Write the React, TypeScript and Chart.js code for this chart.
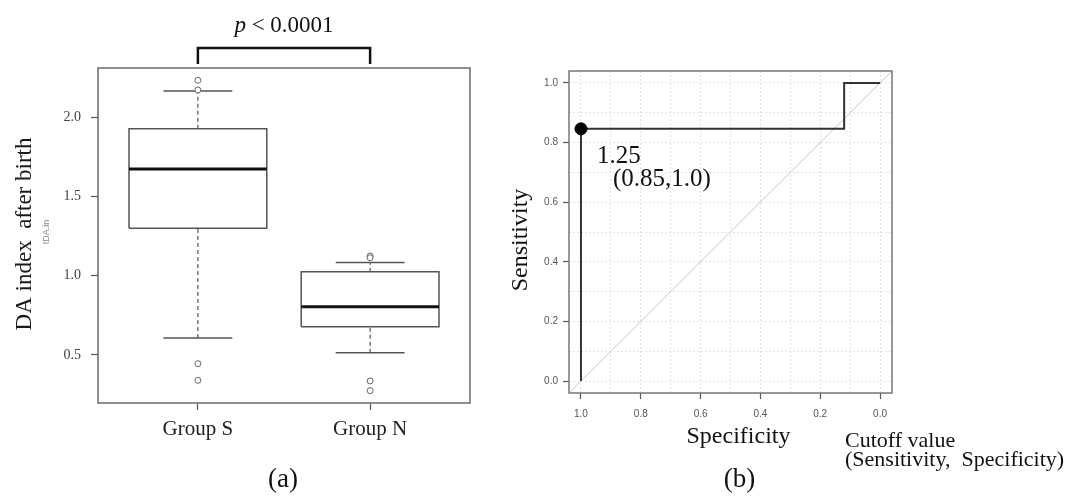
import React, { useEffect, useRef } from "react";
import { Chart, registerables } from "chart.js";
Chart.register(...registerables);

const SERIF = "'Liberation Serif', 'Times New Roman', serif";
const SANS = "'Liberation Sans', Arial, sans-serif";

// ---- Panel (a): box plot data ----
const groups = ["Group S", "Group N"];
const groupPos = [1, 2];
const q1 = [1.298, 0.678];
const medians = [1.672, 0.804];
const q3 = [1.926, 1.025];
const whiskerLow = [0.607, 0.514];
const whiskerHigh = [2.164, 1.082];
const outliersS = [2.231, 2.17, 0.445, 0.34];
const outliersN = [1.124, 1.113, 0.336, 0.275];
const boxTicks = [0.5, 1.0, 1.5, 2.0];
const pText = "p";
const pRest = " < 0.0001";
const yTitleA = "DA index  after birth";
const ySubA = "tDA.in";

// ---- Panel (b): ROC data ----
const rocSpecificity = [1.0, 1.0, 0.12, 0.12, 0.0];
const rocSensitivity = [0.0, 0.846, 0.846, 1.0, 1.0];
const cutoffSpec = 1.0;
const cutoffSens = 0.846;
const cutoffLabel = "1.25";
const cutoffPair = "(0.85,1.0)";
const rocTicks = [0, 0.1, 0.2, 0.3, 0.4, 0.5, 0.6, 0.7, 0.8, 0.9, 1.0];

const isMajor = (v: number) => Math.round(v * 10) % 2 === 0;

function lineDs(data: { x: number; y: number }[], color: string, width: number, dash: number[] = []) {
  return {
    data,
    showLine: true,
    pointRadius: 0,
    borderColor: color,
    borderWidth: width,
    borderDash: dash,
    backgroundColor: "rgba(0,0,0,0)",
    fill: false,
    tension: 0,
    clip: 0,
  };
}

function buildBoxDatasets() {
  const ds: any[] = [];
  const boxColor = "#555";
  const outs = [outliersS, outliersN];
  groupPos.forEach((p, i) => {
    ds.push({
      data: outs[i].map((v) => ({ x: p, y: v })),
      showLine: false,
      pointRadius: 3,
      pointBorderWidth: 1,
      pointBorderColor: "#666",
      pointBackgroundColor: "rgba(255,255,255,1)",
      clip: 0,
    });
  });
  groupPos.forEach((p, i) => {
    const hw = 0.4;
    const cw = 0.2;
    ds.push(lineDs([{ x: p - hw, y: medians[i] }, { x: p + hw, y: medians[i] }], "#111", 3));
    ds.push(
      lineDs(
        [
          { x: p - hw, y: q1[i] },
          { x: p + hw, y: q1[i] },
          { x: p + hw, y: q3[i] },
          { x: p - hw, y: q3[i] },
          { x: p - hw, y: q1[i] },
        ],
        boxColor,
        1.5
      )
    );
    ds.push(lineDs([{ x: p, y: q3[i] }, { x: p, y: whiskerHigh[i] }], boxColor, 1.2, [4, 3]));
    ds.push(lineDs([{ x: p, y: whiskerLow[i] }, { x: p, y: q1[i] }], boxColor, 1.2, [4, 3]));
    ds.push(lineDs([{ x: p - cw, y: whiskerHigh[i] }, { x: p + cw, y: whiskerHigh[i] }], boxColor, 1.5));
    ds.push(lineDs([{ x: p - cw, y: whiskerLow[i] }, { x: p + cw, y: whiskerLow[i] }], boxColor, 1.5));
  });
  return ds;
}

const extrasA = {
  id: "extrasA",
  afterDraw(chart: any) {
    const { ctx, chartArea: a, scales } = chart;
    const xs = scales.x.getPixelForValue(groupPos[0]);
    const xn = scales.x.getPixelForValue(groupPos[1]);
    ctx.save();
    ctx.strokeStyle = "#6a6a6a";
    ctx.lineWidth = 1.5;
    ctx.strokeRect(a.left, a.top, a.right - a.left, a.bottom - a.top);
    // bracket
    ctx.strokeStyle = "#111";
    ctx.lineWidth = 2.5;
    ctx.beginPath();
    ctx.moveTo(xs, a.top - 4);
    ctx.lineTo(xs, a.top - 20);
    ctx.lineTo(xn, a.top - 20);
    ctx.lineTo(xn, a.top - 4);
    ctx.stroke();
    // p value text
    ctx.fillStyle = "#111";
    ctx.textBaseline = "alphabetic";
    ctx.textAlign = "left";
    const f1 = "italic 23px " + SERIF;
    const f2 = "23px " + SERIF;
    ctx.font = f1;
    const w1 = ctx.measureText(pText).width;
    ctx.font = f2;
    const w2 = ctx.measureText(pRest).width;
    const cx = (xs + xn) / 2;
    const sx = cx - (w1 + w2) / 2;
    ctx.font = f1;
    ctx.fillText(pText, sx, 32);
    ctx.font = f2;
    ctx.fillText(pRest, sx + w1, 32);
    // y title
    ctx.save();
    ctx.translate(25, 234);
    ctx.rotate(-Math.PI / 2);
    ctx.textAlign = "center";
    ctx.textBaseline = "middle";
    ctx.font = "23px " + SERIF;
    ctx.fillStyle = "#1a1a1a";
    ctx.fillText(yTitleA, 0, 0);
    ctx.restore();
    ctx.save();
    ctx.translate(47, 232);
    ctx.rotate(-Math.PI / 2);
    ctx.textAlign = "center";
    ctx.textBaseline = "middle";
    ctx.font = "9px " + SANS;
    ctx.fillStyle = "#888";
    ctx.fillText(ySubA, 0, 0);
    ctx.restore();
    // (a)
    ctx.textAlign = "center";
    ctx.textBaseline = "alphabetic";
    ctx.font = "27px " + SERIF;
    ctx.fillStyle = "#111";
    ctx.fillText("(a)", cx - 1, 487);
    ctx.restore();
  },
};

const extrasB = {
  id: "extrasB",
  afterDraw(chart: any) {
    const { ctx, chartArea: a, scales } = chart;
    ctx.save();
    ctx.strokeStyle = "#777";
    ctx.lineWidth = 1.5;
    ctx.strokeRect(a.left, a.top, a.right - a.left, a.bottom - a.top);
    const midX = (a.left + a.right) / 2;
    ctx.fillStyle = "#111";
    // Sensitivity
    ctx.save();
    ctx.translate(a.left - 48, (a.top + a.bottom) / 2 + 8);
    ctx.rotate(-Math.PI / 2);
    ctx.textAlign = "center";
    ctx.textBaseline = "middle";
    ctx.font = "24px " + SERIF;
    ctx.fillText("Sensitivity", 0, 0);
    ctx.restore();
    ctx.textBaseline = "alphabetic";
    ctx.textAlign = "center";
    ctx.font = "24px " + SERIF;
    ctx.fillText("Specificity", midX + 8, a.bottom + 50);
    ctx.font = "27px " + SERIF;
    ctx.fillText("(b)", midX + 9, 487);
    ctx.textAlign = "left";
    ctx.font = "22px " + SERIF;
    ctx.fillText("Cutoff value", a.right - 47, a.bottom + 54);
    ctx.fillText("(Sensitivity,  Specificity)", a.right - 47, a.bottom + 73);
    // cutoff annotation
    const px = scales.x.getPixelForValue(cutoffSpec);
    const py = scales.y.getPixelForValue(cutoffSens);
    ctx.font = "25px " + SERIF;
    ctx.fillText(cutoffLabel, px + 16, py + 34);
    ctx.fillText(cutoffPair, px + 32, py + 57);
    ctx.restore();
  },
};

export default function App() {
  const refA = useRef<HTMLCanvasElement>(null);
  const refB = useRef<HTMLCanvasElement>(null);

  useEffect(() => {
    const chartA = new Chart(refA.current as HTMLCanvasElement, {
      type: "scatter",
      data: { datasets: buildBoxDatasets() },
      options: {
        animation: false,
        responsive: false,
        devicePixelRatio: 1,
        events: [],
        layout: { autoPadding: false, padding: { left: 0, top: 68, right: 20, bottom: 0 } },
        plugins: { legend: { display: false }, tooltip: { enabled: false } },
        scales: {
          x: {
            type: "linear",
            min: 0.42,
            max: 2.58,
            afterBuildTicks: (s: any) => {
              s.ticks = groupPos.map((v) => ({ value: v }));
            },
            ticks: {
              callback: (v: any) => groups[groupPos.indexOf(Number(v))] ?? "",
              font: { family: SERIF, size: 21 },
              color: "#222",
              padding: 7,
              maxRotation: 0,
              autoSkip: false,
            },
            grid: { drawOnChartArea: false, drawTicks: true, tickLength: 7, tickColor: "#555", tickWidth: 1.2 },
            border: { display: false },
            afterFit: (s: any) => {
              s.height = 95;
              s.paddingLeft = 0;
              s.paddingRight = 0;
            },
          },
          y: {
            type: "linear",
            min: 0.197,
            max: 2.309,
            afterBuildTicks: (s: any) => {
              s.ticks = boxTicks.map((v) => ({ value: v }));
            },
            ticks: {
              callback: (v: any) => Number(v).toFixed(1),
              font: { family: SERIF, size: 14 },
              color: "#444",
              padding: 10,
            },
            grid: { drawOnChartArea: false, drawTicks: true, tickLength: 7, tickColor: "#555", tickWidth: 1.2 },
            border: { display: false },
            afterFit: (s: any) => {
              s.width = 98;
              s.paddingTop = 0;
              s.paddingBottom = 0;
            },
          },
        },
      } as any,
      plugins: [extrasA],
    });

    const chartB = new Chart(refB.current as HTMLCanvasElement, {
      type: "scatter",
      data: {
        datasets: [
          {
            data: [{ x: cutoffSpec, y: cutoffSens }],
            pointRadius: 6,
            pointBackgroundColor: "#000",
            pointBorderColor: "#000",
            showLine: false,
            clip: false,
          },
          lineDs(
            rocSpecificity.map((s, i) => ({ x: s, y: rocSensitivity[i] })),
            "#333",
            2
          ),
          lineDs(
            [
              { x: 1.04, y: -0.04 },
              { x: -0.04, y: 1.04 },
            ],
            "#c8c8c8",
            1
          ),
        ],
      },
      options: {
        animation: false,
        responsive: false,
        devicePixelRatio: 1,
        events: [],
        layout: { autoPadding: false, padding: { left: 0, top: 71, right: 178, bottom: 0 } },
        plugins: { legend: { display: false }, tooltip: { enabled: false } },
        scales: {
          x: {
            type: "linear",
            reverse: true,
            min: -0.04,
            max: 1.04,
            afterBuildTicks: (s: any) => {
              s.ticks = rocTicks.map((v) => ({ value: v }));
            },
            ticks: {
              callback: (v: any) => (isMajor(Number(v)) ? Number(v).toFixed(1) : ""),
              font: { family: SANS, size: 10 },
              color: "#555",
              padding: 9,
              maxRotation: 0,
              autoSkip: false,
            },
            grid: {
              color: "#e2e2e2",
              lineWidth: 1,
              borderDash: [2, 2],
              tickLength: 6,
              tickWidth: 1.2,
              tickBorderDash: [],
              tickColor: (c: any) => (c.tick && isMajor(c.tick.value) ? "#555" : "rgba(0,0,0,0)"),
            },
            border: { display: false, dash: [2, 2] },
            afterFit: (s: any) => {
              s.height = 105;
              s.paddingLeft = 0;
              s.paddingRight = 0;
            },
          },
          y: {
            type: "linear",
            min: -0.04,
            max: 1.04,
            afterBuildTicks: (s: any) => {
              s.ticks = rocTicks.map((v) => ({ value: v }));
            },
            ticks: {
              callback: (v: any) => (isMajor(Number(v)) ? Number(v).toFixed(1) : ""),
              font: { family: SANS, size: 10 },
              color: "#555",
              padding: 5,
            },
            grid: {
              color: "#e2e2e2",
              lineWidth: 1,
              borderDash: [2, 2],
              tickLength: 6,
              tickWidth: 1.2,
              tickBorderDash: [],
              tickColor: (c: any) => (c.tick && isMajor(c.tick.value) ? "#555" : "rgba(0,0,0,0)"),
            },
            border: { display: false, dash: [2, 2] },
            afterFit: (s: any) => {
              s.width = 79;
              s.paddingTop = 0;
              s.paddingBottom = 0;
            },
          },
        },
      } as any,
      plugins: [extrasB],
    });

    return () => {
      chartA.destroy();
      chartB.destroy();
    };
  }, []);

  return (
    <div style={{ position: "fixed", left: 0, top: 0, width: 1070, height: 498, background: "#fff" }}>
      <canvas
        ref={refA}
        width={490}
        height={498}
        style={{ position: "absolute", left: 0, top: 0, width: 490, height: 498 }}
      />
      <canvas
        ref={refB}
        width={580}
        height={498}
        style={{ position: "absolute", left: 490, top: 0, width: 580, height: 498 }}
      />
    </div>
  );
}
